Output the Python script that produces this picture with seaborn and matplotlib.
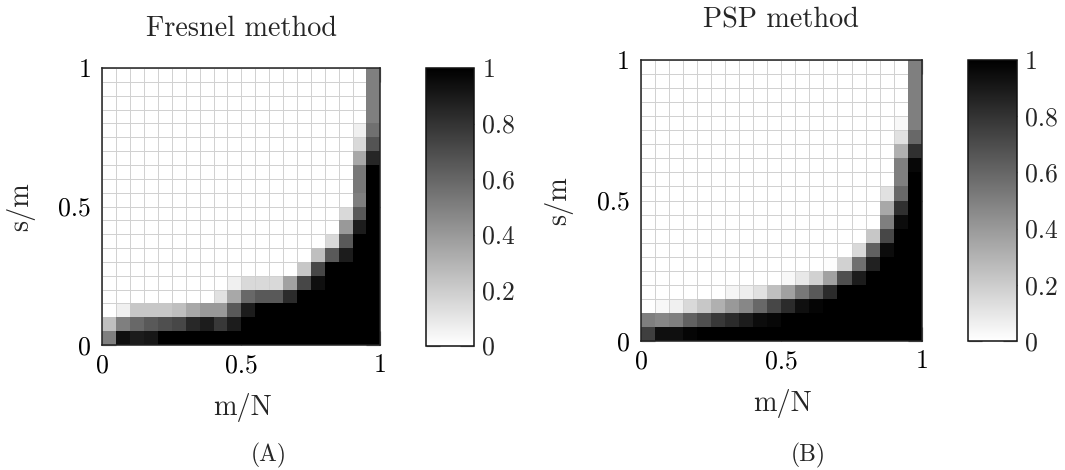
import numpy as np
import pandas as pd
import matplotlib
matplotlib.use("Agg")
import matplotlib.pyplot as plt
import seaborn as sns
from matplotlib.colors import LinearSegmentedColormap, Normalize

# ---------------- data (rows listed top -> bottom, i.e. s/m from 1 down to 0) --------------
x_tick_labels = ["0", "0.5", "1"]
y_tick_labels = ["1", "0.5", "0"]
cbar_ticks = [0, 0.2, 0.4, 0.6, 0.8, 1]
cbar_tick_labels = ["0", "0.2", "0.4", "0.6", "0.8", "1"]
titles = ["Fresnel method", "PSP method"]
captions = ["(A)", "(B)"]

fresnel = [
    [0, 0, 0, 0, 0, 0, 0, 0, 0, 0, 0, 0, 0, 0, 0, 0, 0, 0, 0, 0.50],
    [0, 0, 0, 0, 0, 0, 0, 0, 0, 0, 0, 0, 0, 0, 0, 0, 0, 0, 0, 0.50],
    [0, 0, 0, 0, 0, 0, 0, 0, 0, 0, 0, 0, 0, 0, 0, 0, 0, 0, 0, 0.50],
    [0, 0, 0, 0, 0, 0, 0, 0, 0, 0, 0, 0, 0, 0, 0, 0, 0, 0, 0, 0.50],
    [0, 0, 0, 0, 0, 0, 0, 0, 0, 0, 0, 0, 0, 0, 0, 0, 0, 0, 0.06, 0.56],
    [0, 0, 0, 0, 0, 0, 0, 0, 0, 0, 0, 0, 0, 0, 0, 0, 0, 0, 0.15, 0.67],
    [0, 0, 0, 0, 0, 0, 0, 0, 0, 0, 0, 0, 0, 0, 0, 0, 0, 0, 0.34, 0.85],
    [0, 0, 0, 0, 0, 0, 0, 0, 0, 0, 0, 0, 0, 0, 0, 0, 0, 0, 0.53, 1],
    [0, 0, 0, 0, 0, 0, 0, 0, 0, 0, 0, 0, 0, 0, 0, 0, 0, 0, 0.53, 1],
    [0, 0, 0, 0, 0, 0, 0, 0, 0, 0, 0, 0, 0, 0, 0, 0, 0, 0, 0.50, 1],
    [0, 0, 0, 0, 0, 0, 0, 0, 0, 0, 0, 0, 0, 0, 0, 0, 0, 0.15, 0.65, 1],
    [0, 0, 0, 0, 0, 0, 0, 0, 0, 0, 0, 0, 0, 0, 0, 0, 0, 0.40, 0.89, 1],
    [0, 0, 0, 0, 0, 0, 0, 0, 0, 0, 0, 0, 0, 0, 0, 0, 0.15, 0.65, 1, 1],
    [0, 0, 0, 0, 0, 0, 0, 0, 0, 0, 0, 0, 0, 0, 0, 0.25, 0.65, 0.89, 1, 1],
    [0, 0, 0, 0, 0, 0, 0, 0, 0, 0, 0, 0, 0, 0, 0.22, 0.72, 1, 1, 1, 1],
    [0, 0, 0, 0, 0, 0, 0, 0, 0, 0.06, 0.15, 0.15, 0.15, 0.37, 0.72, 0.94, 1, 1, 1, 1],
    [0, 0, 0, 0, 0, 0, 0, 0, 0.12, 0.34, 0.59, 0.65, 0.65, 0.83, 1, 1, 1, 1, 1, 1],
    [0, 0.06, 0.22, 0.22, 0.22, 0.25, 0.34, 0.40, 0.40, 0.65, 0.89, 1, 1, 1, 1, 1, 1, 1, 1, 1],
    [0.25, 0.50, 0.59, 0.65, 0.69, 0.72, 0.84, 0.89, 0.78, 0.89, 1, 1, 1, 1, 1, 1, 1, 1, 1, 1],
    [0.50, 0.94, 0.89, 0.91, 1, 1, 1, 1, 1, 1, 1, 1, 1, 1, 1, 1, 1, 1, 1, 1],
]

psp = [
    [0, 0, 0, 0, 0, 0, 0, 0, 0, 0, 0, 0, 0, 0, 0, 0, 0, 0, 0, 0.50],
    [0, 0, 0, 0, 0, 0, 0, 0, 0, 0, 0, 0, 0, 0, 0, 0, 0, 0, 0, 0.50],
    [0, 0, 0, 0, 0, 0, 0, 0, 0, 0, 0, 0, 0, 0, 0, 0, 0, 0, 0, 0.50],
    [0, 0, 0, 0, 0, 0, 0, 0, 0, 0, 0, 0, 0, 0, 0, 0, 0, 0, 0, 0.50],
    [0, 0, 0, 0, 0, 0, 0, 0, 0, 0, 0, 0, 0, 0, 0, 0, 0, 0, 0.03, 0.50],
    [0, 0, 0, 0, 0, 0, 0, 0, 0, 0, 0, 0, 0, 0, 0, 0, 0, 0, 0.12, 0.59],
    [0, 0, 0, 0, 0, 0, 0, 0, 0, 0, 0, 0, 0, 0, 0, 0, 0, 0, 0.31, 0.81],
    [0, 0, 0, 0, 0, 0, 0, 0, 0, 0, 0, 0, 0, 0, 0, 0, 0, 0, 0.50, 0.97],
    [0, 0, 0, 0, 0, 0, 0, 0, 0, 0, 0, 0, 0, 0, 0, 0, 0, 0, 0.50, 1],
    [0, 0, 0, 0, 0, 0, 0, 0, 0, 0, 0, 0, 0, 0, 0, 0, 0, 0.12, 0.59, 1],
    [0, 0, 0, 0, 0, 0, 0, 0, 0, 0, 0, 0, 0, 0, 0, 0, 0, 0.34, 0.81, 1],
    [0, 0, 0, 0, 0, 0, 0, 0, 0, 0, 0, 0, 0, 0, 0, 0, 0, 0.50, 0.95, 1],
    [0, 0, 0, 0, 0, 0, 0, 0, 0, 0, 0, 0, 0, 0, 0, 0, 0.22, 0.72, 1, 1],
    [0, 0, 0, 0, 0, 0, 0, 0, 0, 0, 0, 0, 0, 0, 0, 0.15, 0.62, 0.95, 1, 1],
    [0, 0, 0, 0, 0, 0, 0, 0, 0, 0, 0, 0, 0, 0.01, 0.18, 0.56, 0.87, 1, 1, 1],
    [0, 0, 0, 0, 0, 0, 0, 0, 0, 0, 0.03, 0.09, 0.18, 0.37, 0.69, 0.89, 1, 1, 1, 1],
    [0, 0, 0, 0, 0, 0, 0.04, 0.07, 0.12, 0.25, 0.37, 0.53, 0.65, 0.83, 1, 1, 1, 1, 1, 1],
    [0, 0.03, 0.06, 0.15, 0.22, 0.31, 0.40, 0.47, 0.59, 0.72, 0.83, 0.94, 0.98, 1, 1, 1, 1, 1, 1, 1],
    [0.50, 0.47, 0.50, 0.62, 0.69, 0.78, 0.83, 0.89, 0.95, 0.97, 1, 1, 1, 1, 1, 1, 1, 1, 1, 1],
    [0.75, 0.94, 0.94, 0.98, 1, 1, 1, 1, 1, 1, 1, 1, 1, 1, 1, 1, 1, 1, 1, 1],
]

# ---------------- style ----------------
sns.set_theme(style="white")
plt.rcParams["font.family"] = ["cmr10", "DejaVu Serif"]
plt.rcParams["mathtext.fontset"] = "cm"
plt.rcParams["axes.unicode_minus"] = False

W, H = 1065, 470
fig = plt.figure(figsize=(W / 100, H / 100), dpi=100)
cmap = LinearSegmentedColormap.from_list("wb", ["#ffffff", "#000000"])
norm = Normalize(0, 1)
FS = 18.5
FS_LAB = 20.3
TICKC = "#8a8a8a"


def fbox(x0, y0, x1, y1):
    return [x0 / W, 1 - y1 / H, (x1 - x0) / W, (y1 - y0) / H]


panels = [
    dict(data=fresnel, ax=(102.3, 68, 380.4, 345), cax=(426, 68, 474, 345.5)),
    dict(data=psp, ax=(641, 60, 921.7, 341), cax=(968.3, 60, 1016.7, 341)),
]

for i, p in enumerate(panels):
    ax = fig.add_axes(fbox(*p["ax"]))
    cax = fig.add_axes(fbox(*p["cax"]))
    df = pd.DataFrame(np.array(p["data"], dtype=float))
    sns.heatmap(df, ax=ax, cbar_ax=cax, cmap=cmap, vmin=0, vmax=1,
                square=False, xticklabels=False, yticklabels=False)
    mesh = ax.collections[0]
    fc = cmap(norm(df.values)).reshape(-1, 4)
    ec = np.minimum(fc, np.array([0.82, 0.82, 0.82, 1.0]))
    mesh.set_edgecolor(ec)
    mesh.set_linewidth(0.72)

    n = df.shape[0]
    ax.set_xlim(0, n)
    ax.set_ylim(n, 0)
    ax.set_xticks([0, n / 2, n])
    ax.set_xticklabels(x_tick_labels)
    ax.set_yticks([0, n / 2, n])
    ax.set_yticklabels(y_tick_labels, rotation=0)
    ax.tick_params(axis="both", which="both", direction="in", length=10, width=0.9,
                   color=TICKC, top=True, right=True, bottom=True, left=True,
                   labelsize=FS, labelcolor="black")
    ax.tick_params(axis="x", pad=6)
    ax.tick_params(axis="y", pad=8)
    ax.set_xlabel("")
    ax.set_ylabel("")
    for s in ax.spines.values():
        s.set_visible(True)
        s.set_color("#222222")
        s.set_linewidth(1.1)
        s.set_zorder(5)

    cbar = mesh.colorbar
    cbar.set_ticks(cbar_ticks)
    cbar.set_ticklabels(cbar_tick_labels)
    cax.tick_params(direction="in", length=10, width=0.9, color=TICKC,
                    left=True, right=True, labelleft=False, labelright=True,
                    labelsize=FS, pad=6)
    cbar.outline.set_visible(True)
    cbar.outline.set_edgecolor("#111111")
    cbar.outline.set_linewidth(1.1)

    x0, y0, x1, y1 = p["ax"]
    cx = (x0 + x1) / 2
    cy = (y0 + y1) / 2
    fig.text(cx / W, 1 - (y0 - 32) / H, titles[i], ha="center", va="baseline", fontsize=FS_LAB)
    fig.text((cx + 1.5) / W, 1 - (y1 + 70) / H, "m/N", ha="center", va="baseline", fontsize=FS_LAB)
    fig.text((x0 - 82) / W, 1 - cy / H, "s/m", ha="center", va="center", rotation=90, fontsize=FS_LAB)
    fig.text((cx + 27) / W, 1 - 455 / H, captions[i], ha="center", va="center", fontsize=17)

fig.savefig("out.png", dpi=100, facecolor="white")
